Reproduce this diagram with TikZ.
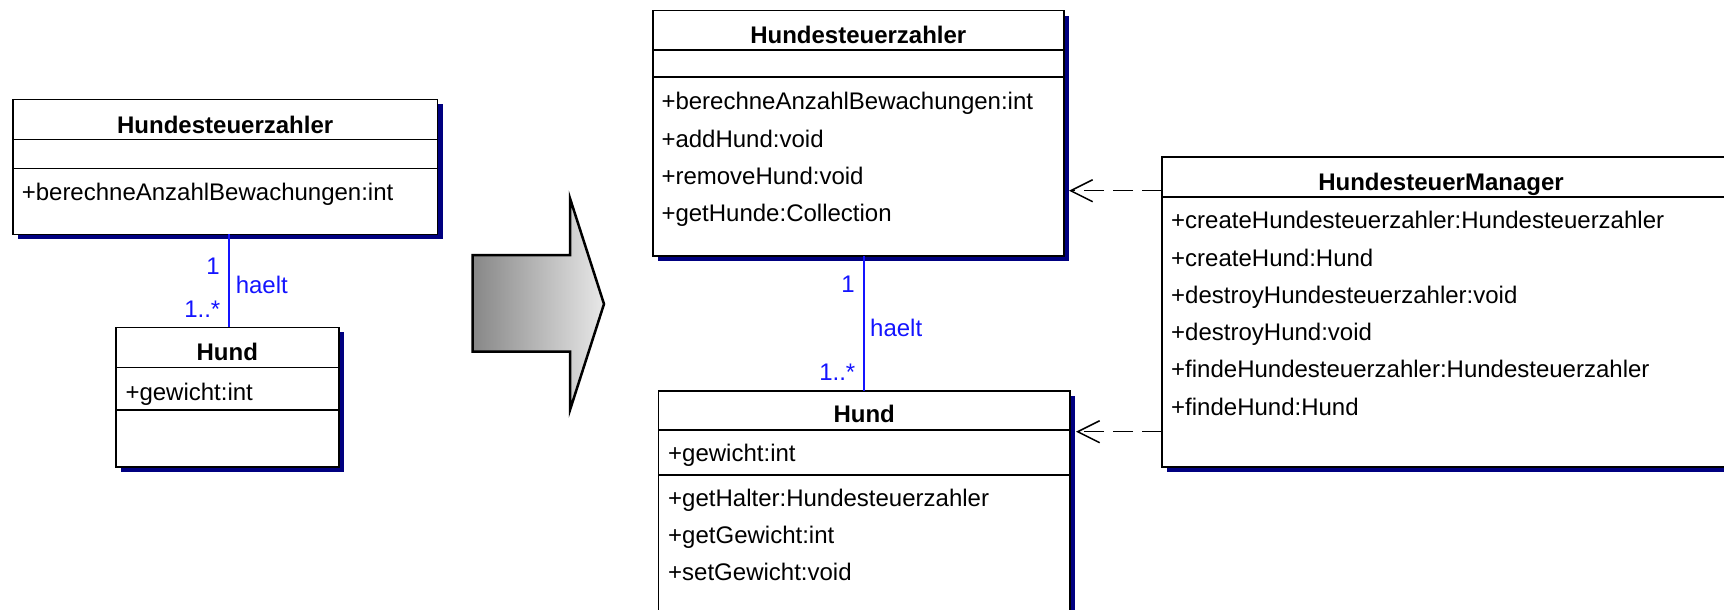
\documentclass[tikz,border=0pt]{standalone}
\usepackage{fontspec}
\setmainfont{Liberation Sans}
\usetikzlibrary{shadows,arrows.meta,calc}
\definecolor{shadownavy}{RGB}{0,0,128}
\definecolor{assocblue}{RGB}{20,20,255}
\definecolor{arrowdark}{RGB}{135,135,135}
\definecolor{arrowlight}{RGB}{232,232,232}
\begin{document}
\begin{tikzpicture}[x=1pt,y=-1pt,
  font=\fontsize{24pt}{28pt}\selectfont,
  cls/.style={draw=black, line width=1.6pt, fill=white, inner sep=0pt, outer sep=0pt,
    anchor=north west,
    general shadow={fill=shadownavy, shadow xshift=5pt, shadow yshift=-5pt}},
  ttl/.style={font=\fontsize{24pt}{28pt}\selectfont\bfseries, anchor=base, inner sep=0pt},
  mem/.style={anchor=base west, inner sep=0pt},
  sep/.style={line width=1.6pt},
  assoc/.style={draw=assocblue, line width=2pt},
  lblE/.style={text=assocblue, anchor=base east, inner sep=0pt},
  lblW/.style={text=assocblue, anchor=base west, inner sep=0pt},
  dep/.style={line width=1.5pt, dash pattern=on 20pt off 9pt,
    -{Straight Barb[length=22pt,width=22pt,line width=1.5pt]}}
]
\useasboundingbox (0,0) rectangle (1724,610);
\clip (0,0) rectangle (1724,610);

% ---------- left diagram ----------
\node[cls, minimum width=424.5pt, minimum height=135pt] (LH) at (13,99.3) {};
\draw[sep] ([yshift=-40pt]LH.north west) -- ([yshift=-40pt]LH.north east);
\draw[sep] ([yshift=-69pt]LH.north west) -- ([yshift=-69pt]LH.north east);
\node[ttl] (LHt) at (225.2,133) {Hundesteuerzahler};
\node[mem] (LHm1) at (21.6,200.7) {+berechneAnzahlBewachungen:int};

\node[cls, minimum width=222.7pt, minimum height=139.4pt] (LD) at (116,327.3) {};
\draw[sep] ([yshift=-40pt]LD.north west) -- ([yshift=-40pt]LD.north east);
\draw[sep] ([yshift=-82.7pt]LD.north west) -- ([yshift=-82.7pt]LD.north east);
\node[ttl] (LDt) at (227.3,360) {Hund};
\node[mem] (LDa1) at (125.3,400.5) {+gewicht:int};

\coordinate (ax1) at (229.3,0);
\draw[assoc] (LH.south -| ax1) -- (LD.north -| ax1);
\node[lblE] (l1a) at (220,274) {1};
\node[lblE] (l1b) at (220.5,317.3) {1..*};
\node[lblW] (l1c) at (235.6,293.3) {haelt};

% ---------- big arrow ----------
\shade[left color=arrowdark, right color=arrowlight, draw=black, line width=2.5pt, line join=miter]
  (472.7,255) -- (570,255) -- (570,198.3) -- (604,304) -- (570,410) -- (570,351.7) -- (472.7,351.7) -- cycle;

% ---------- right diagram ----------
\node[cls, minimum width=411.3pt, minimum height=245.3pt] (BH) at (652.7,10.7) {};
\draw[sep] ([yshift=-39.3pt]BH.north west) -- ([yshift=-39.3pt]BH.north east);
\draw[sep] ([yshift=-66.6pt]BH.north west) -- ([yshift=-66.6pt]BH.north east);
\node[ttl] (BHt) at (858.3,43.3) {Hundesteuerzahler};
\node[mem] (BHm1) at (661.3,110) {+berechneAnzahlBewachungen:int};
\node[mem] (BHm2) at (661.3,147) {+addHund:void};
\node[mem] (BHm3) at (661.3,184) {+removeHund:void};
\node[mem] (BHm4) at (661.3,221) {+getHunde:Collection};

\node[cls, minimum width=411.7pt, minimum height=260pt] (BD) at (658.3,390.7) {};
\draw[sep] ([yshift=-39.3pt]BD.north west) -- ([yshift=-39.3pt]BD.north east);
\draw[sep] ([yshift=-84.3pt]BD.north west) -- ([yshift=-84.3pt]BD.north east);
\node[ttl] (BDt) at (864.2,422.7) {Hund};
\node[mem] (BDa1) at (668,461.7) {+gewicht:int};
\node[mem] (BDm1) at (668,506.7) {+getHalter:Hundesteuerzahler};
\node[mem] (BDm2) at (668,543.3) {+getGewicht:int};
\node[mem] (BDm3) at (668,580) {+setGewicht:void};

\coordinate (ax2) at (864,0);
\draw[assoc] (BH.south -| ax2) -- (BD.north -| ax2);
\node[lblE] (l2a) at (855,292.7) {1};
\node[lblE] (l2b) at (855.5,380.7) {1..*};
\node[lblW] (l2c) at (870,336) {haelt};

\node[cls, minimum width=600pt, minimum height=310pt] (M) at (1162,156.7) {};
\draw[sep] ([yshift=-40pt]M.north west) -- ([yshift=-40pt]M.north east);
\node[ttl] (Mt) at (1441,190) {HundesteuerManager};
\node[mem] (Mm1) at (1171,228.3) {+createHundesteuerzahler:Hundesteuerzahler};
\node[mem] (Mm2) at (1171,266) {+createHund:Hund};
\node[mem] (Mm3) at (1171,303.3) {+destroyHundesteuerzahler:void};
\node[mem] (Mm4) at (1171,340) {+destroyHund:void};
\node[mem] (Mm5) at (1171,377.3) {+findeHundesteuerzahler:Hundesteuerzahler};
\node[mem] (Mm6) at (1171,415) {+findeHund:Hund};

% ---------- dependencies ----------
\coordinate (d1) at (0,190.7);
\coordinate (d2) at (0,431.7);
\draw[dep] (M.west |- d1) -- ([xshift=5pt]BH.east |- d1);
\draw[dep] (M.west |- d2) -- ([xshift=6pt]BD.east |- d2);
\end{tikzpicture}
\end{document}
